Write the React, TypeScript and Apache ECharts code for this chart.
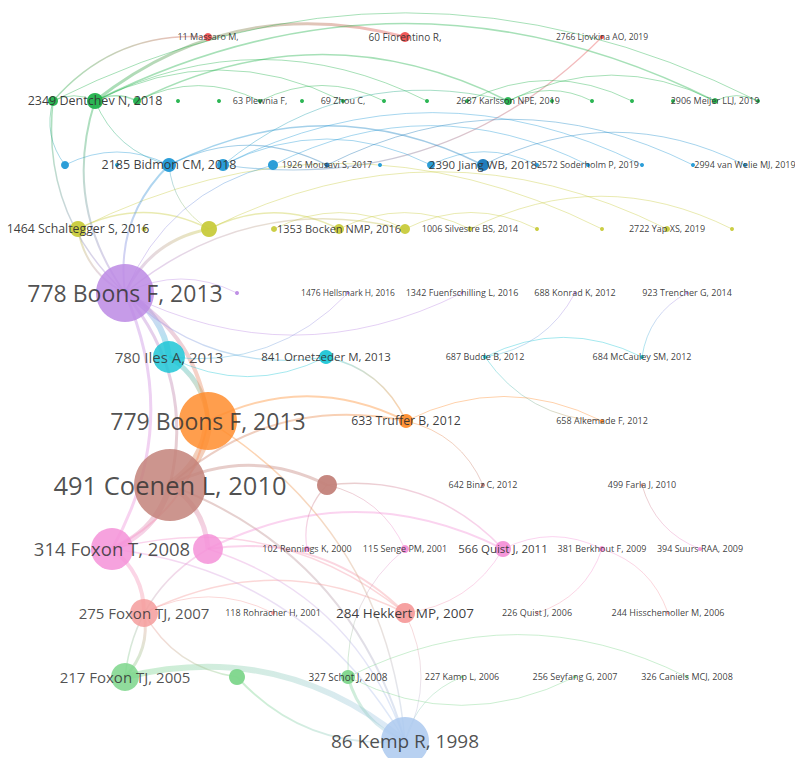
import React, { useEffect, useRef } from "react";
import * as echarts from "echarts";

// ---- Data: citation network nodes (grouped in rows/clusters) ----
const nodeLabels: string[] = [
  "11 Massaro M,", "60 Fiorentino R,", "2766 Ljovkina AO, 2019",
  "", "2349 Dentchev N, 2018", "", "", "", "63 Plewnia F,", "", "69 Zhou C,", "", "", "", "2687 Karlsson NPE, 2019", "", "", "", "", "2906 Meijer LLJ, 2019", "",
  "", "", "2185 Bidmon CM, 2018", "", "", "1926 Mousavi S, 2017", "", "", "2390 Jiang WB, 2018", "", "2572 Soderholm P, 2019", "", "", "2994 van Welie MJ, 2019",
  "1464 Schaltegger S, 2016", "", "", "", "1353 Bocken NMP, 2016", "", "1006 Silvestre BS, 2014", "", "", "2722 Yap XS, 2019", "",
  "778 Boons F, 2013", "", "1476 Hellsmark H, 2016", "1342 Fuenfschilling L, 2016", "688 Konrad K, 2012", "923 Trencher G, 2014",
  "780 Iles A, 2013", "841 Ornetzeder M, 2013", "687 Budde B, 2012", "684 McCauley SM, 2012",
  "779 Boons F, 2013", "633 Truffer B, 2012", "658 Alkemade F, 2012",
  "491 Coenen L, 2010", "", "642 Binz C, 2012", "499 Farla J, 2010",
  "314 Foxon T, 2008", "", "102 Rennings K, 2000", "115 Senge PM, 2001", "566 Quist J, 2011", "381 Berkhout F, 2009", "394 Suurs RAA, 2009",
  "275 Foxon TJ, 2007", "118 Rohracher H, 2001", "284 Hekkert MP, 2007", "226 Quist J, 2006", "244 Hisschemoller M, 2006",
  "217 Foxon TJ, 2005", "", "327 Schot J, 2008", "227 Kamp L, 2006", "256 Seyfang G, 2007", "326 Caniels MCJ, 2008",
  "86 Kemp R, 1998",
];

// cluster (row) of each node
const nodeCluster: number[] = [
  0, 0, 0,
  1, 1, 1, 1, 1, 1, 1, 1, 1, 1, 1, 1, 1, 1, 1, 1, 1, 1,
  2, 2, 2, 2, 2, 2, 2, 2, 2, 2, 2, 2, 2, 2,
  3, 3, 3, 3, 3, 3, 3, 3, 3, 3, 3,
  4, 4, 4, 4, 4, 4,
  5, 5, 5, 5,
  6, 6, 6,
  7, 7, 7, 7,
  8, 8, 8, 8, 8, 8, 8,
  9, 9, 9, 9, 9,
  10, 10, 10, 10, 10, 10,
  11,
];

// horizontal position of each node in layout units
const nodePos: number[] = [
  208, 405, 602,
  53, 95, 137, 178, 219, 260, 302, 343, 384, 427, 467, 508, 552, 592, 632, 673, 715, 758,
  65, 117, 169, 223, 273, 327, 380, 431, 483, 537, 588, 642, 693, 745,
  78, 144, 209, 274, 339, 405, 470, 537, 602, 667, 732,
  125, 237, 348, 462, 575, 687,
  169, 326, 485, 642,
  208, 406, 602,
  170, 327, 483, 642,
  112, 208, 307, 405, 503, 602, 700,
  144, 273, 405, 537, 668,
  125, 237, 348, 462, 575, 687,
  405,
];

// node weight (citation burst size)
const nodeWeight: number[] = [
  8, 10, 4,
  10, 16, 8, 4, 4, 4, 4, 4, 4, 4, 4, 8, 4, 4, 4, 4, 6, 4,
  8, 4, 14, 12, 10, 5, 4, 8, 12, 4, 4, 4, 4, 4,
  16, 5, 16, 6, 10, 10, 5, 4, 4, 6, 4,
  58, 4, 3, 3, 3, 3,
  32, 14, 4, 4,
  58, 14, 4,
  72, 20, 4, 3,
  42, 30, 6, 8, 16, 6, 4,
  28, 4, 20, 3, 3,
  28, 16, 14, 3, 3, 3,
  48,
];

// co-citation links: [source, target, strength]
const links: number[][] = [
  [3, 0, 1.5], [4, 1, 3], [2, 24, 1.2], [3, 4, 1], [4, 5, 1.5], [4, 19, 1.5], [3, 20, 1],
  [5, 14, 1.5], [5, 8, 1], [4, 12, 1], [4, 10, 1], [14, 16, 1], [14, 19, 1], [19, 20, 1],
  [13, 17, 1], [8, 11, 1],
  [23, 29, 1.5], [23, 26, 1.2], [24, 28, 1], [25, 31, 1], [21, 23, 1], [29, 34, 1], [26, 33, 1],
  [24, 32, 1], [28, 30, 1], [23, 4, 1], [21, 3, 1], [24, 14, 1],
  [35, 37, 1.5], [37, 39, 1.5], [37, 44, 1], [38, 40, 1], [39, 41, 1], [35, 43, 1], [40, 42, 1],
  [41, 45, 1], [37, 23, 1],
  [46, 52, 6], [52, 56, 5], [46, 56, 4], [56, 59, 9], [59, 63, 6], [59, 64, 5], [63, 70, 4],
  [70, 75, 3], [75, 81, 6], [81, 77, 3], [81, 76, 2], [59, 81, 2], [46, 59, 3], [46, 63, 3],
  [46, 35, 2], [46, 37, 3], [46, 23, 2], [46, 4, 2], [46, 3, 1.5], [46, 25, 1], [46, 47, 1],
  [46, 40, 1.5], [59, 60, 3], [59, 57, 2], [56, 57, 2], [53, 46, 1.2], [53, 57, 1.5], [53, 52, 1],
  [64, 67, 2], [64, 72, 2], [63, 72, 1.5], [70, 72, 1.5], [70, 71, 1], [65, 60, 1.2], [67, 68, 1],
  [68, 73, 1], [69, 62, 1], [58, 54, 1], [54, 55, 1], [55, 51, 1], [50, 54, 1], [57, 61, 1],
  [77, 80, 1], [81, 78, 1], [72, 81, 1], [76, 70, 1.5], [64, 81, 1.5], [63, 81, 1.5], [60, 66, 1],
  [57, 58, 1], [49, 46, 1], [48, 52, 1], [56, 63, 2], [56, 81, 1.5], [75, 64, 1.5], [67, 72, 1],
  [60, 67, 1.5], [68, 74, 1], [79, 77, 1], [77, 66, 1],
];

// ---- Styles ----
const clusterColors = [
  "#ef5050", "#22b24c", "#2199d6", "#c8cb3c", "#bc8ae4", "#1ec6d6",
  "#ff8d2e", "#c3827a", "#f492d8", "#f59c9c", "#7dd68b", "#abc9ee",
];
const colorOverride: Record<number, string> = { 29: "#1677b9", 26: "#1a6fae" };

const fontTable: Record<string, number> = {
  "491 Coenen L, 2010": 25.5, "778 Boons F, 2013": 23, "779 Boons F, 2013": 23,
  "86 Kemp R, 1998": 19, "314 Foxon T, 2008": 18.5, "780 Iles A, 2013": 15,
  "275 Foxon TJ, 2007": 15, "217 Foxon TJ, 2005": 15, "2349 Dentchev N, 2018": 12.5,
  "2185 Bidmon CM, 2018": 12.5, "284 Hekkert MP, 2007": 13.5, "1464 Schaltegger S, 2016": 12.3,
  "2390 Jiang WB, 2018": 11.5, "566 Quist J, 2011": 11.5, "841 Ornetzeder M, 2013": 11.5,
  "633 Truffer B, 2012": 12.3, "1353 Bocken NMP, 2016": 11, "60 Fiorentino R,": 10,
  "327 Schot J, 2008": 10, "2766 Ljovkina AO, 2019": 8.5, "1476 Hellsmark H, 2016": 8.5,
};

function nodeColor(i: number): string {
  return colorOverride[i] ?? clusterColors[nodeCluster[i]];
}

export default function App() {
  const ref = useRef<HTMLDivElement>(null);
  useEffect(() => {
    document.body.style.margin = "0";
    const chart = echarts.init(ref.current!, null, { renderer: "svg" });
    const data = nodeLabels.map((label, i) => ({
      id: String(i),
      name: label || "n" + i,
      value: [nodePos[i], nodeCluster[i]],
      symbolSize: nodeWeight[i],
      itemStyle: {
        color: nodeColor(i),
        opacity: nodeWeight[i] > 20 ? 0.85 : 0.95,
      },
      label: label
        ? {
            show: true,
            position: "inside",
            formatter: label,
            fontSize: fontTable[label] ?? 9,
            color: "#333",
            fontFamily: "Open Sans",
          }
        : { show: false },
    }));
    const edgeData = links.map(([s, t, w]) => {
      const dx = nodePos[t] - nodePos[s];
      const dy = (nodeCluster[t] - nodeCluster[s]) * 64;
      const horizontal = Math.abs(dx) >= Math.abs(dy);
      const forward = horizontal ? dx >= 0 : dy >= 0;
      const c0 = forward ? nodeColor(s) : nodeColor(t);
      const c1 = forward ? nodeColor(t) : nodeColor(s);
      const grad = new echarts.graphic.LinearGradient(
        0, 0, horizontal ? 1 : 0, horizontal ? 0 : 1,
        [
          { offset: 0, color: c0 },
          { offset: 1, color: c1 },
        ]
      );
      return {
        source: s,
        target: t,
        lineStyle: { width: w, color: grad, opacity: 0.4, curveness: 0.25 },
      };
    });
    chart.setOption({
      animation: false,
      backgroundColor: "#ffffff",
      grid: { left: 0, right: 0, top: 0, bottom: 0 },
      xAxis: { type: "value", min: 0, max: 795, show: false },
      yAxis: { type: "value", inverse: true, min: -0.578, max: 11.266, show: false },
      series: [
        {
          type: "graph",
          coordinateSystem: "cartesian2d",
          layout: "none",
          silent: true,
          data,
          links: edgeData,
          lineStyle: { opacity: 0.4, curveness: 0.25 },
          label: { show: false },
        },
      ],
    });
    return () => chart.dispose();
  }, []);
  return <div ref={ref} style={{ width: 795, height: 758 }} />;
}
